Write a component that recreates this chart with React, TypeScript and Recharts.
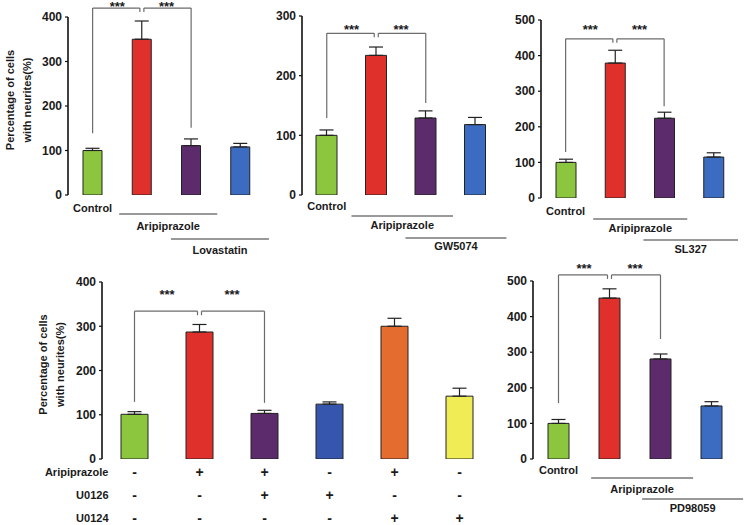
import {
  BarChart,
  Bar,
  XAxis,
  YAxis,
  ErrorBar,
  ReferenceLine,
  ReferenceDot,
  Cell,
  Label,
} from "recharts";

const FONT = '"Liberation Sans", Arial, sans-serif';

// ---- data ----
const lovastatinCategories = ["Control", "Aripiprazole", "Aripiprazole + Lovastatin", "Lovastatin"];
const lovastatinValues = [100, 350, 111, 108];
const lovastatinErrors = [5, 41, 15, 8];

const gw5074Categories = ["Control", "Aripiprazole", "Aripiprazole + GW5074", "GW5074"];
const gw5074Values = [100, 234, 129, 118];
const gw5074Errors = [9, 14, 12, 12];

const sl327Categories = ["Control", "Aripiprazole", "Aripiprazole + SL327", "SL327"];
const sl327Values = [100, 379, 224, 115];
const sl327Errors = [9, 36, 17, 12];

const u0126Categories = ["Control", "Aripiprazole", "Aripiprazole + U0126", "U0126", "Aripiprazole + U0124", "U0124"];
const u0126Values = [101, 287, 103, 124, 300, 142];
const u0126Errors = [6, 17, 7, 5, 18, 18];
const u0126RowTitles = ["Aripiprazole", "U0126", "U0124"];
const u0126Rows = [
  ["-", "+", "+", "-", "+", "-"],
  ["-", "-", "+", "+", "-", "-"],
  ["-", "-", "-", "-", "+", "+"],
];

const pd98059Categories = ["Control", "Aripiprazole", "Aripiprazole + PD98059", "PD98059"];
const pd98059Values = [100, 452, 281, 149];
const pd98059Errors = [11, 26, 14, 12];

const fourColors = ["#8cc63f", "#e0302c", "#5b2b6b", "#3c6cc2"];
const sixColors = ["#8cc63f", "#e0302c", "#5b2b6b", "#3656ad", "#e46c2e", "#f0ec55"];

const Y_LABEL = ["Percentage of cells", "with neurites(%)"];

const textShape =
  (text: string, size = 11, anchor = "middle", baseline = "central", dy = 0) =>
  (p: any) =>
    (
      <text
        x={p.cx}
        y={p.cy + dy}
        textAnchor={anchor}
        dominantBaseline={baseline}
        fontSize={size}
        fontWeight="bold"
        fontFamily={FONT}
        fill="#1a1a1a"
      >
        {text}
      </text>
    );

function Panel({
  box,
  plot,
  categories,
  values,
  errors,
  colors,
  yMax,
  barSize,
  bracket,
  underlines = [],
  controlDy,
  rows,
  rowTitles,
  rowDy = [],
  yLabelX,
}: any) {
  const n = categories.length;
  const data = categories.map((name: string, i: number) => ({
    name,
    pos: i + 0.5,
    value: values[i],
    err: [0, errors[i]],
  }));
  const k = yMax / (plot.y1 - plot.y0); // data units per pixel
  const catW = (plot.x1 - plot.x0) / n;
  const yTicks = [0, 100, 200, 300, 400, 500].filter((v) => v <= yMax);
  const bounds = Array.from({ length: n - 1 }, (_, i) => i + 1);
  const gap = 2 / catW;
  const notch = 4 * k;
  const line = { stroke: "#6b6b6b", strokeWidth: 1.2 };

  const renderYLabel = (props: any) => {
    const vb = props.viewBox;
    const cy = vb.y + vb.height / 2 - 6;
    return (
      <g>
        {Y_LABEL.map((t, i) => {
          const x = vb.x + yLabelX[i];
          return (
            <text
              key={t}
              x={x}
              y={cy}
              transform={`rotate(-90 ${x} ${cy})`}
              textAnchor="middle"
              dominantBaseline="central"
              fontSize={11}
              fontWeight="bold"
              fontFamily={FONT}
              fill="#1a1a1a"
            >
              {t}
            </text>
          );
        })}
      </g>
    );
  };

  const seg = (x1: number, y1: number, x2: number, y2: number, key: string, style = line) => (
    <ReferenceLine
      key={key}
      xAxisId="num"
      segment={[
        { x: x1, y: y1 },
        { x: x2, y: y2 },
      ]}
      ifOverflow="visible"
      {...style}
    />
  );

  const b = bracket;
  return (
    <div style={{ position: "absolute", left: box.left, top: box.top }}>
      <BarChart
        width={box.width}
        height={box.height}
        data={data}
        margin={{
          top: plot.y0 - box.top,
          right: box.left + box.width - plot.x1,
          bottom: box.top + box.height - plot.y1,
          left: 0,
        }}
      >
        <XAxis xAxisId="cat" dataKey="name" hide />
        <XAxis
          xAxisId="num"
          type="number"
          dataKey="pos"
          domain={[0, n]}
          ticks={bounds}
          allowDataOverflow
          tickFormatter={() => ""}
          mirror
          height={0}
          tickSize={3}
          axisLine={{ stroke: "#111", strokeWidth: 1.6 }}
          tickLine={{ stroke: "#111", strokeWidth: 1.2 }}
        />
        <YAxis
          width={plot.x0 - box.left}
          domain={[0, yMax]}
          ticks={yTicks}
          allowDataOverflow
          interval={0}
          tickSize={3}
          tickMargin={3}
          axisLine={{ stroke: "#111", strokeWidth: 1.6 }}
          tickLine={{ stroke: "#111", strokeWidth: 1.2 }}
          tick={{ fontSize: 12, fontWeight: "bold", fill: "#1a1a1a", fontFamily: FONT }}
        >
          {yLabelX && <Label content={renderYLabel} />}
        </YAxis>
        <Bar
          xAxisId="cat"
          dataKey="value"
          barSize={barSize}
          stroke="#222"
          strokeWidth={1}
          isAnimationActive={false}
        >
          {data.map((_: any, i: number) => (
            <Cell key={i} fill={colors[i]} />
          ))}
          <ErrorBar dataKey="err" direction="y" width={7} stroke="#222" strokeWidth={1.2} />
        </Bar>

        {/* significance brackets */}
        {seg(0.5, b.top, 1.5 - gap, b.top, "h1")}
        {seg(1.5 + gap, b.top, 2.5, b.top, "h2")}
        {seg(0.5, b.top, 0.5, b.drops[0], "v1")}
        {seg(2.5, b.top, 2.5, b.drops[1], "v2")}
        {seg(1.5 - gap, b.top, 1.5 - gap, b.top - notch, "n1")}
        {seg(1.5 + gap, b.top, 1.5 + gap, b.top - notch, "n2")}
        {[1, 2].map((c) => (
          <ReferenceDot
            key={`s${c}`}
            xAxisId="num"
            x={c}
            y={b.stars}
            ifOverflow="visible"
            shape={textShape("***", 13, "middle", "auto", 6)}
          />
        ))}

        {/* group labels under the axis */}
        {controlDy != null && (
          <ReferenceDot
            xAxisId="num"
            x={0.5}
            y={-controlDy * k}
            ifOverflow="visible"
            shape={textShape(categories[0])}
          />
        )}
        {underlines.map((u: any) => [
          seg(u.from, -u.lineDy * k, u.to, -u.lineDy * k, `u${u.text}`, {
            stroke: "#777",
            strokeWidth: 1.3,
          }),
          <ReferenceDot
            key={`t${u.text}`}
            xAxisId="num"
            x={(u.from + u.to) / 2}
            y={-u.textDy * k}
            ifOverflow="visible"
            shape={textShape(u.text)}
          />,
        ])}

        {/* +/- treatment table */}
        {rows &&
          rows.map((row: string[], r: number) => [
            <ReferenceDot
              key={`rt${r}`}
              xAxisId="num"
              x={0.1}
              y={-rowDy[r] * k}
              ifOverflow="visible"
              shape={textShape(rowTitles[r], 11, "end")}
            />,
            ...row.map((sign, i) => (
              <ReferenceDot
                key={`r${r}-${i}`}
                xAxisId="num"
                x={i + 0.5}
                y={-rowDy[r] * k}
                ifOverflow="visible"
                shape={textShape(sign, 14)}
              />
            )),
          ])}
      </BarChart>
    </div>
  );
}

export default function App() {
  return (
    <div
      style={{
        position: "absolute",
        left: 0,
        top: 0,
        width: 746,
        height: 525,
        background: "#fff",
        overflow: "hidden",
      }}
    >
      <style>{"svg.recharts-surface{overflow:visible}"}</style>
      <Panel
        box={{ left: 0, top: 0, width: 276, height: 258 }}
        plot={{ x0: 68, x1: 265, y0: 17, y1: 195 }}
        categories={lovastatinCategories}
        values={lovastatinValues}
        errors={lovastatinErrors}
        colors={fourColors}
        yMax={400}
        barSize={19}
        bracket={{ top: 420, drops: [139, 151], stars: 427 }}
        controlDy={13}
        underlines={[
          { text: "Aripiprazole", from: 1.04, to: 3.03, lineDy: 19, textDy: 31 },
          { text: "Lovastatin", from: 2.09, to: 4.08, lineDy: 44, textDy: 55 },
        ]}
        yLabelX={[10, 27]}
      />
      <Panel
        box={{ left: 280, top: 0, width: 230, height: 258 }}
        plot={{ x0: 302, x1: 500, y0: 16, y1: 195 }}
        categories={gw5074Categories}
        values={gw5074Values}
        errors={gw5074Errors}
        colors={fourColors}
        yMax={300}
        barSize={21}
        bracket={{ top: 271, drops: [129, 154], stars: 280 }}
        controlDy={11}
        underlines={[
          { text: "Aripiprazole", from: 1.0, to: 3.05, lineDy: 21, textDy: 30 },
          { text: "GW5074", from: 2.09, to: 4.13, lineDy: 43, textDy: 51 },
        ]}
      />
      <Panel
        box={{ left: 510, top: 0, width: 236, height: 258 }}
        plot={{ x0: 541, x1: 738, y0: 20, y1: 198 }}
        categories={sl327Categories}
        values={sl327Values}
        errors={sl327Errors}
        colors={fourColors}
        yMax={500}
        barSize={20}
        bracket={{ top: 447, drops: [129, 258], stars: 477 }}
        controlDy={13}
        underlines={[
          { text: "Aripiprazole", from: 1.06, to: 2.97, lineDy: 21, textDy: 30 },
          { text: "SL327", from: 2.08, to: 4.0, lineDy: 42, textDy: 51 },
        ]}
      />
      <Panel
        box={{ left: 0, top: 262, width: 500, height: 263 }}
        plot={{ x0: 102, x1: 492, y0: 282, y1: 459 }}
        categories={u0126Categories}
        values={u0126Values}
        errors={u0126Errors}
        colors={sixColors}
        yMax={400}
        barSize={27}
        bracket={{ top: 334, drops: [129, 127], stars: 375 }}
        rows={u0126Rows}
        rowTitles={u0126RowTitles}
        rowDy={[13, 36, 59]}
        yLabelX={[43, 60]}
      />
      <Panel
        box={{ left: 505, top: 262, width: 241, height: 263 }}
        plot={{ x0: 533, x1: 737, y0: 281, y1: 459 }}
        categories={pd98059Categories}
        values={pd98059Values}
        errors={pd98059Errors}
        colors={fourColors}
        yMax={500}
        barSize={21}
        bracket={{ top: 517, drops: [157, 337], stars: 539 }}
        controlDy={11}
        underlines={[
          { text: "Aripiprazole", from: 1.14, to: 3.14, lineDy: 19, textDy: 30 },
          { text: "PD98059", from: 2.14, to: 4.12, lineDy: 40, textDy: 49 },
        ]}
      />
    </div>
  );
}
